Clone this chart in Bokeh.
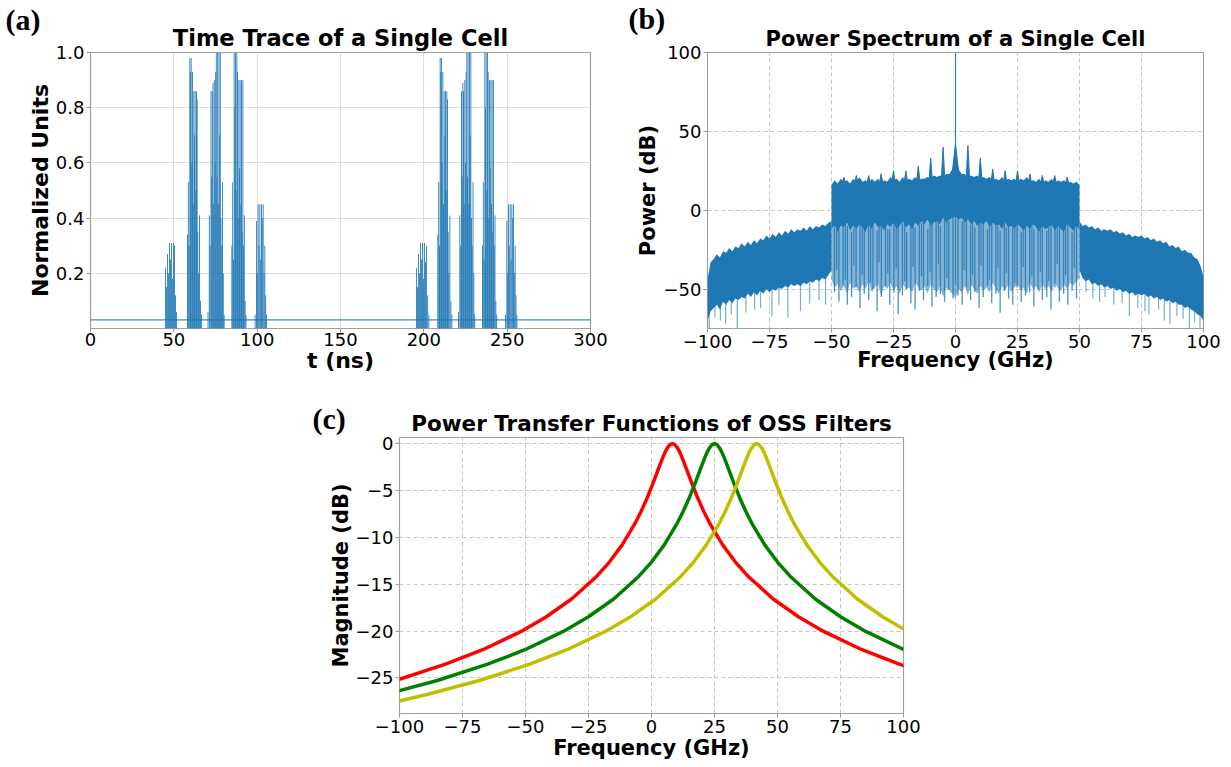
from bokeh.plotting import figure
from bokeh.models import Range1d, FixedTicker, CustomJSTickFormatter, Spacer, Title
from bokeh.layouts import row, column
from bokeh.embed import file_html
from bokeh.resources import INLINE

BLUE = "#1f77b4"

# ---------------- (a) time trace ----------------
a_xticks = [0, 50, 100, 150, 200, 250, 300]
a_yticks = [0.2, 0.4, 0.6, 0.8, 1.0]
spike_t = [
    45.0, 45.6, 46.2, 46.8, 47.4, 48.0, 48.6, 49.2, 49.8, 50.4, 51.0, 51.6,
    58.2, 58.7, 59.2, 59.6, 60.0, 60.4, 60.8, 61.2, 61.6, 62.0, 62.4, 62.8, 63.2, 63.6, 64.0, 64.4, 64.8, 65.4, 66.0, 66.6,
    70.5, 71.3, 71.8, 72.3, 72.7, 73.1, 73.5, 73.9, 74.3, 74.7, 75.1, 75.5, 75.9, 76.3, 76.7, 77.1, 77.5, 77.9, 78.3, 78.7, 79.2, 79.7, 80.2,
    84.8, 85.3, 85.8, 86.2, 86.6, 87.0, 87.4, 87.8, 88.2, 88.6, 89.0, 89.4, 89.8, 90.2, 90.6, 91.0, 91.4, 91.8, 92.3, 92.8, 93.3,
    98.8, 99.6, 100.1, 100.6, 101.1, 101.6, 102.1, 102.6, 103.1, 103.6, 104.1, 104.6, 105.1, 105.6,
    195.6, 196.2, 196.8, 197.4, 198.0, 198.6, 199.2, 199.8, 200.4, 201.0, 201.6, 202.3, 203.0,
    208.4, 208.9, 209.4, 209.8, 210.2, 210.6, 211.0, 211.4, 211.8, 212.2, 212.6, 213.0, 213.4, 213.8, 214.2, 214.6, 215.0, 215.6, 216.2, 216.8,
    220.8, 221.6, 222.1, 222.6, 223.0, 223.4, 223.8, 224.2, 224.6, 225.0, 225.4, 225.8, 226.2, 226.6, 227.0, 227.4, 227.8, 228.2, 228.6, 229.0, 229.5, 230.0, 230.5,
    235.2, 235.7, 236.2, 236.6, 237.0, 237.4, 237.8, 238.2, 238.6, 239.0, 239.4, 239.8, 240.2, 240.6, 241.0, 241.4, 241.8, 242.2, 242.7, 243.2, 243.7,
    249.0, 249.8, 250.3, 250.8, 251.3, 251.8, 252.3, 252.8, 253.3, 253.8, 254.3, 254.8, 255.3, 255.8,
]
spike_h = [
    0.22, 0.15, 0.27, 0.20, 0.31, 0.25, 0.31, 0.18, 0.31, 0.30, 0.12, 0.06,
    0.34, 0.53, 0.30, 0.98, 0.93, 0.98, 0.60, 0.93, 0.45, 0.86, 0.70, 0.86, 0.50, 0.86, 0.83, 0.35, 0.20, 0.41, 0.10, 0.05,
    0.06, 0.41, 0.30, 0.86, 0.55, 0.86, 0.89, 0.45, 0.90, 0.60, 0.93, 1.00, 0.55, 1.00, 0.45, 1.00, 0.70, 1.00, 0.40, 0.30, 0.53, 0.20, 0.05,
    0.30, 0.53, 0.25, 1.00, 0.80, 1.00, 0.50, 1.00, 0.93, 0.40, 0.90, 0.58, 0.90, 0.45, 0.90, 0.35, 0.90, 0.30, 0.41, 0.10, 0.05,
    0.05, 0.39, 0.20, 0.45, 0.30, 0.45, 0.25, 0.45, 0.40, 0.45, 0.20, 0.30, 0.12, 0.05,
    0.22, 0.15, 0.27, 0.20, 0.31, 0.25, 0.31, 0.18, 0.31, 0.24, 0.30, 0.12, 0.05,
    0.34, 0.53, 0.30, 0.98, 0.93, 0.98, 0.60, 0.93, 0.45, 0.86, 0.70, 0.86, 0.50, 0.86, 0.83, 0.35, 0.20, 0.41, 0.10, 0.05,
    0.06, 0.41, 0.30, 0.86, 0.55, 0.89, 0.86, 0.45, 0.90, 0.60, 0.93, 1.00, 0.55, 1.00, 0.45, 1.00, 0.70, 1.00, 0.40, 0.30, 0.53, 0.20, 0.05,
    0.30, 0.53, 0.25, 1.00, 0.80, 1.00, 0.50, 1.00, 0.93, 0.40, 0.90, 0.58, 0.90, 0.45, 0.90, 0.35, 0.90, 0.30, 0.41, 0.10, 0.05,
    0.05, 0.39, 0.20, 0.45, 0.30, 0.45, 0.25, 0.45, 0.40, 0.45, 0.20, 0.30, 0.12, 0.05,
]
spike_floor = 0.0
base_t = [0.0, 300.0]
base_v = [0.031, 0.031]

# ---------------- (b) power spectrum ----------------
f_ticks = [-100, -75, -50, -25, 0, 25, 50, 75, 100]
b_yticks = [-50, 0, 50, 100]
f_out_L = [-100.0, -98.75, -97.5, -96.25, -95.0, -93.75, -92.5, -91.25, -90.0, -88.75,
           -87.5, -86.25, -85.0, -83.75, -82.5, -81.25, -80.0, -78.75, -77.5, -76.25,
           -75.0, -73.75, -72.5, -71.25, -70.0, -68.75, -67.5, -66.25, -65.0, -63.75,
           -62.5, -61.25, -60.0, -58.75, -57.5, -56.25, -55.0, -53.75, -52.5, -51.25,
           -50.0]
up_L = [-44, -33, -31, -28, -30, -26, -27, -24, -26, -23,
        -24, -21, -23, -20, -22, -19, -21, -18, -19, -16,
        -18, -15, -17, -14, -16, -13, -15, -12, -14, -12,
        -13, -11, -13, -10, -12, -10, -11, -9, -10, -8,
        -7]
lo_L = [-70, -64, -62, -60, -63, -58, -60, -57, -59, -56,
        -57, -55, -56, -53, -55, -52, -54, -51, -53, -50,
        -52, -50, -51, -49, -50, -48, -49, -47, -48, -47,
        -48, -46, -47, -45, -46, -44, -45, -43, -44, -41,
        -38]
f_out_R = [50.0, 51.25, 52.5, 53.75, 55.0, 56.25, 57.5, 58.75, 60.0, 61.25,
           62.5, 63.75, 65.0, 66.25, 67.5, 68.75, 70.0, 71.25, 72.5, 73.75,
           75.0, 76.25, 77.5, 78.75, 80.0, 81.25, 82.5, 83.75, 85.0, 86.25,
           87.5, 88.75, 90.0, 91.25, 92.5, 93.75, 95.0, 96.25, 97.5, 98.75,
           100.0]
up_R = [-7, -10, -9, -11, -10, -12, -11, -13, -12, -13,
        -12, -14, -13, -15, -14, -16, -15, -17, -16, -17,
        -16, -18, -17, -19, -18, -20, -19, -21, -20, -23,
        -22, -24, -23, -26, -25, -27, -27, -30, -31, -35,
        -42]
lo_R = [-38, -43, -45, -44, -47, -46, -48, -47, -49, -48,
        -50, -49, -51, -50, -52, -51, -53, -52, -54, -53,
        -54, -53, -55, -54, -56, -55, -57, -56, -58, -57,
        -59, -58, -60, -60, -62, -61, -63, -64, -66, -67,
        -70]
f_C = [-50.0, -48.75, -47.5, -46.25, -45.0, -43.75, -42.5, -41.25, -40.0, -38.75,
       -37.5, -36.25, -35.0, -33.75, -32.5, -31.25, -30.0, -28.75, -27.5, -26.25,
       -25.0, -23.75, -22.5, -21.25, -20.0, -18.75, -17.5, -16.25, -15.0, -13.75,
       -12.5, -11.25, -10.0, -8.75, -7.5, -6.25, -5.0, -3.75, -2.5, -1.25,
       0.0, 1.25, 2.5, 3.75, 5.0, 6.25, 7.5, 8.75, 10.0, 11.25,
       12.5, 13.75, 15.0, 16.25, 17.5, 18.75, 20.0, 21.25, 22.5, 23.75,
       25.0, 26.25, 27.5, 28.75, 30.0, 31.25, 32.5, 33.75, 35.0, 36.25,
       37.5, 38.75, 40.0, 41.25, 42.5, 43.75, 45.0, 46.25, 47.5, 48.75,
       50.0]
c_top = [16, 19, 17, 20, 18, 19, 17, 20, 18, 21,
         18, 19, 17, 20, 18, 20, 17, 19, 18, 21,
         19, 20, 18, 21, 18, 20, 19, 21, 19, 20,
         20, 21, 20, 22, 21, 22, 21, 23, 23, 26,
         30, 26, 23, 23, 21, 22, 21, 22, 20, 21,
         20, 21, 19, 20, 19, 21, 18, 20, 19, 20,
         18, 20, 19, 21, 18, 19, 18, 20, 17, 19,
         18, 20, 17, 19, 18, 19, 17, 18, 17, 18,
         16]
c_mid = [-12, -9, -14, -10, -11, -8, -13, -10, -12, -9,
         -11, -14, -9, -12, -8, -11, -10, -13, -9, -11,
         -8, -12, -10, -7, -11, -9, -12, -8, -10, -7,
         -9, -6, -10, -8, -7, -9, -5, -8, -6, -5,
         -4, -6, -5, -8, -6, -9, -7, -10, -8, -9,
         -7, -11, -8, -10, -9, -12, -8, -11, -10, -12,
         -9, -11, -13, -10, -12, -9, -11, -14, -10, -12,
         -11, -9, -13, -10, -12, -14, -9, -11, -13, -10,
         -12]
c_lo = [-44, -49, -47, -51, -48, -53, -46, -50, -48, -52,
        -47, -50, -45, -52, -49, -47, -54, -48, -50, -46,
        -51, -48, -53, -47, -50, -49, -52, -46, -49, -51,
        -48, -53, -47, -50, -52, -48, -55, -49, -51, -53,
        -56, -50, -52, -48, -54, -47, -50, -53, -48, -51,
        -49, -52, -46, -50, -53, -48, -51, -47, -52, -49,
        -47, -51, -49, -53, -46, -50, -48, -52, -47, -50,
        -48, -52, -46, -49, -51, -47, -50, -46, -48, -45,
        -43]
c_spk_f = [-48.8, -47.0, -45.3, -43.6, -41.9, -40.1, -38.5, -36.8, -35.0, -33.3,
           -31.6, -29.9, -28.2, -26.5, -24.8, -23.1, -21.4, -19.7, -18.0, -16.3,
           -14.6, -12.9, -11.2, -9.5, -7.8, -6.1, -4.4, -2.7, -1.0, 1.0,
           2.7, 4.4, 6.1, 7.8, 9.5, 11.2, 12.9, 14.6, 16.3, 18.0,
           19.7, 21.4, 23.1, 24.8, 26.5, 28.2, 29.9, 31.6, 33.3, 35.0,
           36.8, 38.5, 40.1, 41.9, 43.6, 45.3, 47.0, 48.8]
c_spk_lo = [-52, -58, -47, -60, -55, -49, -62, -53, -57, -50,
            -64, -55, -48, -60, -52, -66, -54, -50, -59, -63,
            -51, -57, -48, -61, -55, -53, -58, -50, -56, -54,
            -60, -49, -57, -52, -62, -55, -48, -59, -53, -65,
            -51, -56, -60, -49, -58, -54, -52, -61, -50, -57,
            -55, -63, -49, -58, -53, -60, -51, -56]
c_spk_hi = [-8, -12, -6, -10, -14, -7, -9, -11, -5, -10,
            -13, -6, -9, -12, -7, -10, -8, -14, -6, -11,
            -9, -5, -12, -8, -6, -10, -4, -7, -3, -3,
            -7, -5, -9, -11, -6, -8, -12, -7, -10, -13,
            -6, -9, -11, -8, -14, -7, -10, -12, -6, -9,
            -13, -8, -11, -7, -12, -9, -14, -10]
c_spk2_f = [-47.9, -44.4, -41.0, -37.6, -34.2, -30.8, -27.3, -23.9, -20.5, -17.1, -13.7, -10.3, -6.9, -3.5, 0.0,
            3.5, 6.9, 10.3, 13.7, 17.1, 20.5, 23.9, 27.3, 30.8, 34.2, 37.6, 41.0, 44.4, 47.9]
c_spk2_lo = [-38, -44, -35, -41, -46, -33, -40, -37, -45, -36, -42, -39, -34, -43, -47,
             -38, -41, -35, -44, -37, -40, -46, -36, -42, -39, -45, -34, -41, -37]
c_spk2_hi = [-9, -7, -11, -8, -10, -6, -12, -9, -7, -10, -8, -6, -5, -4, -3,
             -4, -6, -8, -7, -9, -11, -8, -10, -7, -12, -9, -8, -10, -11]
out_spk_f = [-99.3, -97.0, -94.8, -92.7, -90.4, -88.0, -84.5, -81.0, -78.6, -74.0, -71.2, -67.6, -62.5, -58.8, -55.0, -52.4,
             52.6, 55.4, 58.1, 60.3, 63.8, 67.2, 70.1, 73.5, 76.4, 78.0, 81.9, 84.2, 86.5, 89.3, 91.8, 94.3, 96.4, 98.6]
out_spk_lo = [-76, -68, -70, -72, -66, -76, -65, -63, -62, -67, -60, -68, -64, -59, -57, -60,
              -52, -56, -58, -55, -60, -59, -67, -62, -64, -66, -63, -70, -72, -67, -69, -76, -71, -76]
out_spk_hi = [-60, -58, -58, -54, -54, -52, -52, -50, -50, -49, -48, -46, -45, -43, -42, -40,
              -42, -44, -46, -46, -48, -49, -50, -51, -52, -52, -54, -55, -56, -57, -58, -60, -61, -63]
harm_f = [-45, -40, -35, -30, -25, -20, -15, -10, -5, 5, 10, 15, 20, 25, 30, 35, 40, 45]
harm_pk = [21, 22, 22, 23, 25, 25, 28, 33, 40, 41, 33, 26, 25, 25, 23, 22, 22, 21]
harm_base = 16.0
cpk_f = [0.0]
cpk_v = [42.0]
cpk_base = [20.0]
cspike_top = [100.0]

# ---------------- (c) filters ----------------
c_yticks = [0, -5, -10, -15, -20, -25]
red_f = [-101.7, -81.7, -66.7, -51.7, -41.7, -31.7, -21.7, -16.7, -11.7, -6.7, -4.2, -1.7, 0.3, 1.3, 2.3,
         3.3, 4.3, 5.3, 6.3, 7.3, 8.3, 9.3, 10.3, 11.3, 12.3, 13.3, 14.3, 15.3, 16.3, 18.3, 20.8, 23.3,
         28.3, 33.3, 38.3, 48.3, 58.3, 68.3, 83.3, 98.3, 118.3]
red_db = [-25.28, -23.54, -21.97, -20.04, -18.48, -16.58, -14.15, -12.64, -10.83, -8.60, -7.28, -5.78,
          -4.44, -3.73, -3.01, -2.29, -1.60, -0.97, -0.46, -0.12, 0.0, -0.12, -0.46, -0.97, -1.60, -2.29,
          -3.01, -3.73, -4.44, -5.78, -7.28, -8.60, -10.83, -12.64, -14.15, -16.58, -18.48, -20.04,
          -21.97, -23.54, -25.28]
green_f = [-105, -85, -65, -50, -35, -25, -15, -5, 0, 5, 10, 12.5, 15, 17, 18, 19, 20, 21, 22, 23, 24, 25,
           26, 27, 28, 29, 30, 31, 32, 33, 35, 37.5, 40, 45, 50, 55, 65, 75, 85, 100]
green_db = [-26.72, -25.28, -23.54, -21.97, -20.04, -18.48, -16.58, -14.15, -12.64, -10.83, -8.60, -7.28,
            -5.78, -4.44, -3.73, -3.01, -2.29, -1.60, -0.97, -0.46, -0.12, 0.0, -0.12, -0.46, -0.97,
            -1.60, -2.29, -3.01, -3.73, -4.44, -5.78, -7.28, -8.60, -10.83, -12.64, -14.15, -16.58,
            -18.48, -20.04, -21.97]
yellow_f = [-108.3, -88.3, -68.3, -48.3, -33.3, -18.3, -8.3, 1.7, 11.7, 16.7, 21.7, 26.7, 29.2, 31.7,
            33.7, 34.7, 35.7, 36.7, 37.7, 38.7, 39.7, 40.7, 41.7, 42.7, 43.7, 44.7, 45.7, 46.7, 47.7,
            48.7, 49.7, 51.7, 54.2, 56.7, 61.7, 66.7, 71.7, 81.7, 91.7, 101.7]
yellow_db = [-27.97, -26.72, -25.28, -23.54, -21.97, -20.04, -18.48, -16.58, -14.15, -12.64, -10.83,
             -8.60, -7.28, -5.78, -4.44, -3.73, -3.01, -2.29, -1.60, -0.97, -0.46, -0.12, 0.0, -0.12,
             -0.46, -0.97, -1.60, -2.29, -3.01, -3.73, -4.44, -5.78, -7.28, -8.60, -10.83, -12.64,
             -14.15, -16.58, -18.48, -20.04]

MINUS_FMT = "return (tick < 0 ? '\\u2212' : '') + Math.abs(tick);"


def style(p, xticks, yticks, tick_px, label_px, dashed, yfmt=None):
    p.xaxis.ticker = FixedTicker(ticks=xticks)
    p.yaxis.ticker = FixedTicker(ticks=yticks)
    p.xaxis.formatter = CustomJSTickFormatter(code=MINUS_FMT)
    p.yaxis.formatter = CustomJSTickFormatter(code=yfmt or MINUS_FMT)
    for ax in (p.xaxis[0], p.yaxis[0]):
        ax.major_label_text_font = "DejaVu Sans"
        ax.major_label_text_font_size = tick_px
        ax.major_label_text_color = "black"
        ax.axis_label_text_font = "DejaVu Sans"
        ax.axis_label_text_font_style = "bold"
        ax.axis_label_text_font_size = label_px
        ax.axis_label_text_color = "black"
        ax.axis_line_color = None
        ax.major_tick_line_color = "#9a9a9a"
        ax.major_tick_out = 4
        ax.major_tick_in = 0
        ax.minor_tick_line_color = None
        ax.major_label_standoff = 2
    p.outline_line_color = "#a0a0a0"
    p.outline_line_width = 1.2
    for g in (p.xgrid[0], p.ygrid[0]):
        if dashed:
            g.grid_line_color = "#c4c4c4"
            g.grid_line_dash = "4 3"
        else:
            g.grid_line_color = "#dedede"
        g.grid_line_width = 1
    p.xgrid.ticker = FixedTicker(ticks=xticks)
    p.ygrid.ticker = FixedTicker(ticks=yticks)
    p.background_fill_color = "white"
    p.border_fill_color = "white"


def add_titles(p, text, size, letter, letter_offset, letter_standoff):
    p.add_layout(Title(text=text, align="center", standoff=4, text_font="DejaVu Sans",
                       text_font_style="bold", text_font_size=size, text_color="black"), "above")
    p.add_layout(Title(text=letter, align="left", offset=letter_offset, standoff=letter_standoff,
                       text_font="Liberation Serif", text_font_style="bold", text_font_size="30px",
                       text_color="black"), "above")


# ---- figure (a)
pa = figure(width=610, height=389, x_range=Range1d(0, 300), y_range=Range1d(0, 1.0),
            output_backend="svg", toolbar_location=None, title=None,
            min_border_left=90, min_border_right=20, min_border_top=52, min_border_bottom=60)
style(pa, a_xticks, a_yticks, "18px", "22px", False, yfmt="return tick.toFixed(1);")
add_titles(pa, "Time Trace of a Single Cell", "22.5px", "(a)", -85, -31)
pa.xaxis.axis_label = "t (ns)"
pa.yaxis.axis_label = "Normalized Units"
pa.xaxis.major_label_standoff = 0
pa.xaxis.axis_label_standoff = -1
pa.yaxis.axis_label_standoff = 0
pa.segment(x0=spike_t, y0=[spike_floor] * len(spike_t), x1=spike_t, y1=spike_h,
           line_color=BLUE, line_alpha=0.85, line_width=1)
pa.line(base_t, base_v, line_color=BLUE, line_width=1.2, line_alpha=0.85)

# ---- figure (b)
pb = figure(width=620, height=389, x_range=Range1d(-100, 100), y_range=Range1d(-75, 100),
            output_backend="svg", toolbar_location=None, title=None,
            min_border_left=97, min_border_right=27, min_border_top=52, min_border_bottom=61)
style(pb, f_ticks, b_yticks, "18px", "21px", True)
add_titles(pb, "Power Spectrum of a Single Cell", "21px", "(b)", -79, -25)
pb.xaxis.axis_label = "Frequency (GHz)"
pb.yaxis.axis_label = "Power (dB)"
pb.xaxis.axis_label_standoff = -3
pb.yaxis.axis_label_standoff = 1
pb.varea(x=f_out_L, y1=lo_L, y2=up_L, fill_color=BLUE)
pb.varea(x=f_out_R, y1=lo_R, y2=up_R, fill_color=BLUE)
pb.segment(x0=out_spk_f, y0=out_spk_lo, x1=out_spk_f, y1=out_spk_hi, line_color=BLUE, line_alpha=0.6, line_width=1.2)
pb.varea(x=f_C, y1=c_lo, y2=c_mid, fill_color=BLUE, fill_alpha=0.55)
pb.segment(x0=c_spk_f, y0=c_spk_lo, x1=c_spk_f, y1=c_spk_hi, line_color=BLUE, line_alpha=0.8, line_width=1.3)
pb.segment(x0=c_spk2_f, y0=c_spk2_lo, x1=c_spk2_f, y1=c_spk2_hi, line_color=BLUE, line_alpha=0.8, line_width=1.2)
pb.varea(x=f_C, y1=c_mid, y2=c_top, fill_color=BLUE)
hw = 0.8
pb.patches(xs=[[f - hw, f, f + hw] for f in harm_f], ys=[[harm_base, v, harm_base] for v in harm_pk],
           fill_color=BLUE, line_color=BLUE, line_width=1)
pb.patches(xs=[[f - 1.6, f, f + 1.6] for f in cpk_f], ys=[[b, v, b] for b, v in zip(cpk_base, cpk_v)],
           fill_color=BLUE, line_color=BLUE, line_width=1)
pb.segment(x0=cpk_f, y0=cpk_base, x1=cpk_f, y1=cspike_top, line_color=BLUE, line_width=1.1)

# ---- figure (c)
pc = figure(width=612, height=377, x_range=Range1d(-100, 100), y_range=Range1d(-28.8, 0.65),
            output_backend="svg", toolbar_location=None, title=None,
            min_border_left=88, min_border_right=20, min_border_top=48, min_border_bottom=53)
style(pc, f_ticks, c_yticks, "18px", "21px", True)
add_titles(pc, "Power Transfer Functions of OSS Filters", "21.5px", "(c)", -87, -56)
pc.xaxis.axis_label = "Frequency (GHz)"
pc.yaxis.axis_label = "Magnitude (dB)"
pc.xaxis.axis_label_standoff = 0
pc.yaxis.axis_label_standoff = 0
pc.line(red_f, red_db, line_color="#ff0000", line_width=3.5, line_join="round")
pc.line(green_f, green_db, line_color="#008000", line_width=3.5, line_join="round")
pc.line(yellow_f, yellow_db, line_color="#bfbf00", line_width=3.5, line_join="round")

layout = column(row(pa, pb), row(Spacer(width=311, height=377), pc))

open("out.html", "w").write(file_html(layout, INLINE))
